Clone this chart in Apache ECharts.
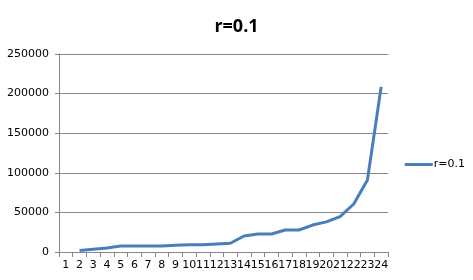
<!DOCTYPE html>
<html>
<head>
<meta charset="utf-8">
<script src="https://cdn.jsdelivr.net/npm/echarts@6/dist/echarts.min.js"></script>
<style>html,body{margin:0;padding:0;background:#fff}#c{width:473px;height:280px}</style>
</head>
<body>
<div id="c"></div>
<script>
const categories = ['1','2','3','4','5','6','7','8','9','10','11','12','13','14','15','16','17','18','19','20','21','22','23','24'];
const seriesName = 'r=0.1';
const values = [null, 1800, 3500, 5000, 7500, 7500, 7500, 7500, 8500, 9000, 9000, 10000, 11000, 20200, 22700, 22700, 27800, 27800, 34000, 38000, 44600, 60600, 91000, 208500];
const yTicks = {min: 0, max: 250000, interval: 50000};

const chart = echarts.init(document.getElementById('c'));
chart.setOption({
  animation: false,
  title: {text: 'r=0.1', left: 'center', top: 13,
    textStyle: {fontFamily: 'Open Sans', fontWeight: 'bold', fontSize: 18, color: '#000'}},
  legend: {right: 3, top: 154, orient: 'vertical', itemWidth: 28, itemHeight: 3, itemGap: 4,
    icon: 'rect', textStyle: {fontFamily: 'DejaVu Sans', fontSize: 11, color: '#000', padding: [0,0,0,-4]},
    data: [seriesName]},
  grid: {left: 59, right: 85, top: 54, bottom: 28},
  xAxis: {type: 'category', data: categories, boundaryGap: true,
    axisLine: {lineStyle: {color: '#868686'}},
    axisTick: {show: true, length: 5, alignWithLabel: false, lineStyle: {color: '#868686'}},
    axisLabel: {interval: 0, fontFamily: 'DejaVu Sans', fontSize: 11, color: '#000', margin: 8}},
  yAxis: {type: 'value', min: yTicks.min, max: yTicks.max, interval: yTicks.interval,
    axisLine: {show: true, lineStyle: {color: '#868686'}},
    axisTick: {show: true, length: 4, lineStyle: {color: '#868686'}},
    splitLine: {lineStyle: {color: '#868686'}},
    axisLabel: {fontFamily: 'DejaVu Sans', fontSize: 11, color: '#000', margin: 10,
      formatter: function (v) { return String(v); }}},
  series: [{name: seriesName, type: 'line', data: values, showSymbol: false, symbol: 'none',
    lineStyle: {color: '#4A7EBB', width: 3}, itemStyle: {color: '#4A7EBB'}}]
});
</script>
</body>
</html>
